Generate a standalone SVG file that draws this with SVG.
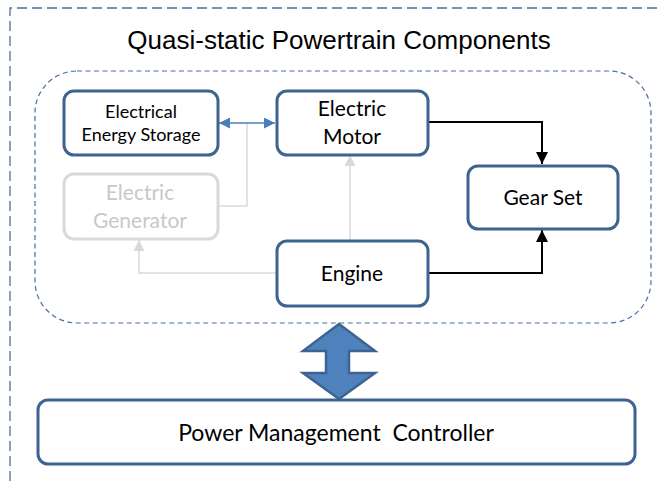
<svg xmlns="http://www.w3.org/2000/svg" width="662" height="481" viewBox="0 0 662 481">
<defs>
<style>
.frame{fill:none;stroke:#4a6fa0;stroke-width:1.3;stroke-dasharray:10 5}
.group{fill:none;stroke:#4a6fa0;stroke-width:1.2;stroke-dasharray:5 3.5}
.box{fill:#fff;stroke:#3d6391;stroke-width:3}
.gbox{fill:#fff;stroke:#d9d9d9;stroke-width:3}
.lbl{font-family:Lato,"Open Sans","Liberation Sans",sans-serif;fill:#000;text-anchor:middle}
.glbl{font-family:Lato,"Open Sans","Liberation Sans",sans-serif;fill:#c8c8c8;text-anchor:middle}
.title{font-family:"Liberation Sans",Arial,sans-serif;font-size:26px;fill:#000;text-anchor:middle}
.blk{fill:none;stroke:#000;stroke-width:2}
.gray{fill:none;stroke:#d9d9d9;stroke-width:1.5}
.blue{fill:none;stroke:#4a7ebb;stroke-width:1.5}
</style>
<marker id="ab" viewBox="0 0 10 10" refX="10" refY="5" markerWidth="12" markerHeight="12" markerUnits="userSpaceOnUse" orient="auto"><path d="M0,0 L10,5 L0,10 z" fill="#000"/></marker>
<marker id="ag" viewBox="0 0 10 10" refX="10" refY="5" markerWidth="11" markerHeight="11" markerUnits="userSpaceOnUse" orient="auto"><path d="M0,0 L10,5 L0,10 z" fill="#d9d9d9"/></marker>
<marker id="au" viewBox="0 0 10 10" refX="10" refY="5" markerWidth="11" markerHeight="11" markerUnits="userSpaceOnUse" orient="auto-start-reverse"><path d="M0,0 L10,5 L0,10 z" fill="#4a7ebb"/></marker>
</defs>
<rect width="662" height="481" fill="#fff"/>
<path class="frame" d="M10,481 L10,8 L662,8"/>
<text class="title" x="339" y="49">Quasi-static Powertrain Components</text>
<rect class="group" x="35" y="71" width="616" height="252" rx="42" ry="42"/>
<g id="connectors">
<path class="gray" d="M247,123 L247,206 L218,206"/>
<path class="gray" d="M276,273 L139,273 L139,240" marker-end="url(#ag)"/>
<path class="gray" d="M350,240 L350,155" marker-end="url(#ag)"/>
<path class="blue" d="M219,123 L275,123" marker-start="url(#au)" marker-end="url(#au)"/>
<path class="blk" d="M428,122 L542,122 L542,164" marker-end="url(#ab)"/>
<path class="blk" d="M428,273 L542,273 L542,230" marker-end="url(#ab)"/>
<path d="M339,324 L375,351 L349,351 L349,373 L375,373 L339,399 L303,373 L326,373 L326,351 L303,351 z" fill="#4f81bd" stroke="#3d6391" stroke-width="2.5" stroke-linejoin="miter"/>
</g>
<g id="ees">
<rect class="box" x="64" y="91" width="154" height="64" rx="10"/>
<text class="lbl" x="141" y="118" font-size="18">Electrical</text>
<text class="lbl" x="141" y="141" font-size="18">Energy Storage</text>
</g>
<g id="motor">
<rect class="box" x="277" y="91" width="151" height="64" rx="10"/>
<text class="lbl" x="352" y="116" font-size="21">Electric</text>
<text class="lbl" x="352" y="144" font-size="21">Motor</text>
</g>
<g id="generator">
<rect class="gbox" x="64" y="174" width="154" height="65" rx="10"/>
<text class="glbl" x="140" y="200" font-size="21">Electric</text>
<text class="glbl" x="140" y="228" font-size="21">Generator</text>
</g>
<g id="engine">
<rect class="box" x="277" y="241" width="151" height="65" rx="10"/>
<text class="lbl" x="352" y="281" font-size="21">Engine</text>
</g>
<g id="gearset">
<rect class="box" x="468" y="166" width="150" height="63" rx="10"/>
<text class="lbl" x="543" y="205" font-size="21">Gear Set</text>
</g>
<g id="pmc">
<rect class="box" x="38" y="400" width="597" height="64" rx="10"/>
<text class="lbl" x="336" y="441" font-size="23" style="white-space:pre">Power Management  Controller</text>
</g>
</svg>
